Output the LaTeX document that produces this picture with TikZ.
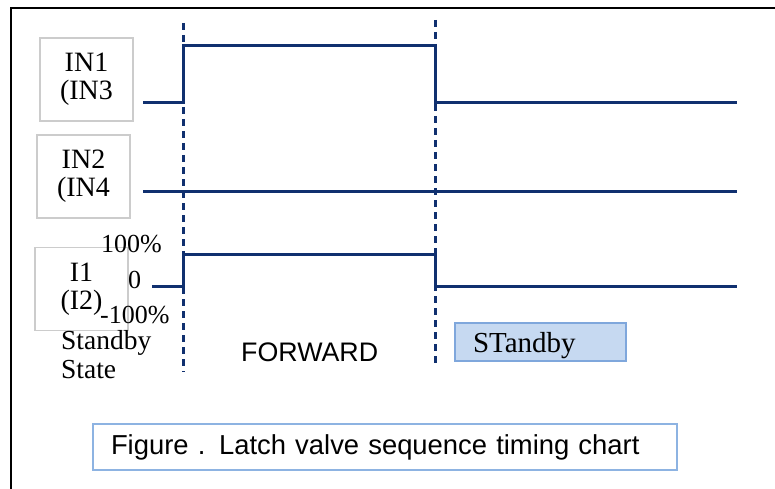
\documentclass[tikz,border=0pt]{standalone}
\usepackage{fontspec}
\setmainfont{Liberation Serif}
\setsansfont{Liberation Sans}
\usepackage{tikz}

\definecolor{navy}{HTML}{10306F}
\definecolor{boxgray}{HTML}{CCCCCC}
\definecolor{stfill}{HTML}{C6D9F1}
\definecolor{stline}{HTML}{7FA7DC}
\definecolor{capline}{HTML}{8DB3E2}

\begin{document}
\begin{tikzpicture}[x=1pt, y=-1pt,
  inbox/.style = {draw=boxgray, line width=1.2pt, minimum width=93pt, minimum height=83pt, align=center, inner sep=0pt, font=\fontsize{28}{28}\selectfont},
  lvl/.style = {anchor=base west, inner sep=0pt, font=\fontsize{26}{26}\selectfont},
  sig/.style = {draw=navy, line width=3pt, line join=miter},
  cut/.style = {draw=navy, line width=3pt, dash pattern=on 7pt off 5pt},
  stbox/.style = {draw=stline, fill=stfill, line width=1.5pt, minimum height=38pt, text width=135pt, text height=24pt, text depth=4pt, inner xsep=18pt, inner ysep=0pt, align=left, font=\fontsize{29}{29}\selectfont},
  capbox/.style = {draw=capline, line width=1.5pt, minimum height=46pt, text width=548pt, inner xsep=18pt, inner ysep=0pt, align=left, font=\sffamily\fontsize{27.4}{27.4}\selectfont}]
\useasboundingbox (0,0) rectangle (775,489);
\draw[black, line width=2pt] (11,489) -- (11,8) -- (775,8);

\node[inbox] (in1) at (86.5,79.5) {IN1\\(IN3};
\node[inbox] (in2) at (83.5,176.5) {IN2\\(IN4};
\node[inbox] (i1) at (81.5,289) {I1\\(I2)};

\node[lvl] (pos) at (101,252) {100\%};
\node[lvl] (zero) at (128,288) {0};
\node[lvl] (neg) at (100,323) {-100\%};
\node[anchor=base west, inner sep=0pt, align=left, font=\fontsize{27.5}{28.5}\selectfont] (state) at (61,378) {Standby\\State};

\draw[cut] (183,23) -- (183,372);
\draw[cut] (435,20) -- (435,365);

% IN1 / IN3
\draw[sig] (143,103) -- (183,103) -- (183,46) -- (435,46) -- (435,103) -- (737,103);
% IN2 / IN4
\draw[sig] (143,191) -- (737,191);
% I1 / I2
\draw[sig] (152,286) -- (183,286) -- (183,254) -- (435,254) -- (435,286) -- (737,286);

\node[anchor=base west, inner sep=0pt, font=\sffamily\fontsize{26.8}{26.8}\selectfont] (fwd) at (241,361) {FORWARD};
\node[stbox] (stby) at (540.5,342) {STandby};

\node[capbox] (cap) at (385,447) {Figure . Latch valve sequence timing chart};
\end{tikzpicture}
\end{document}
